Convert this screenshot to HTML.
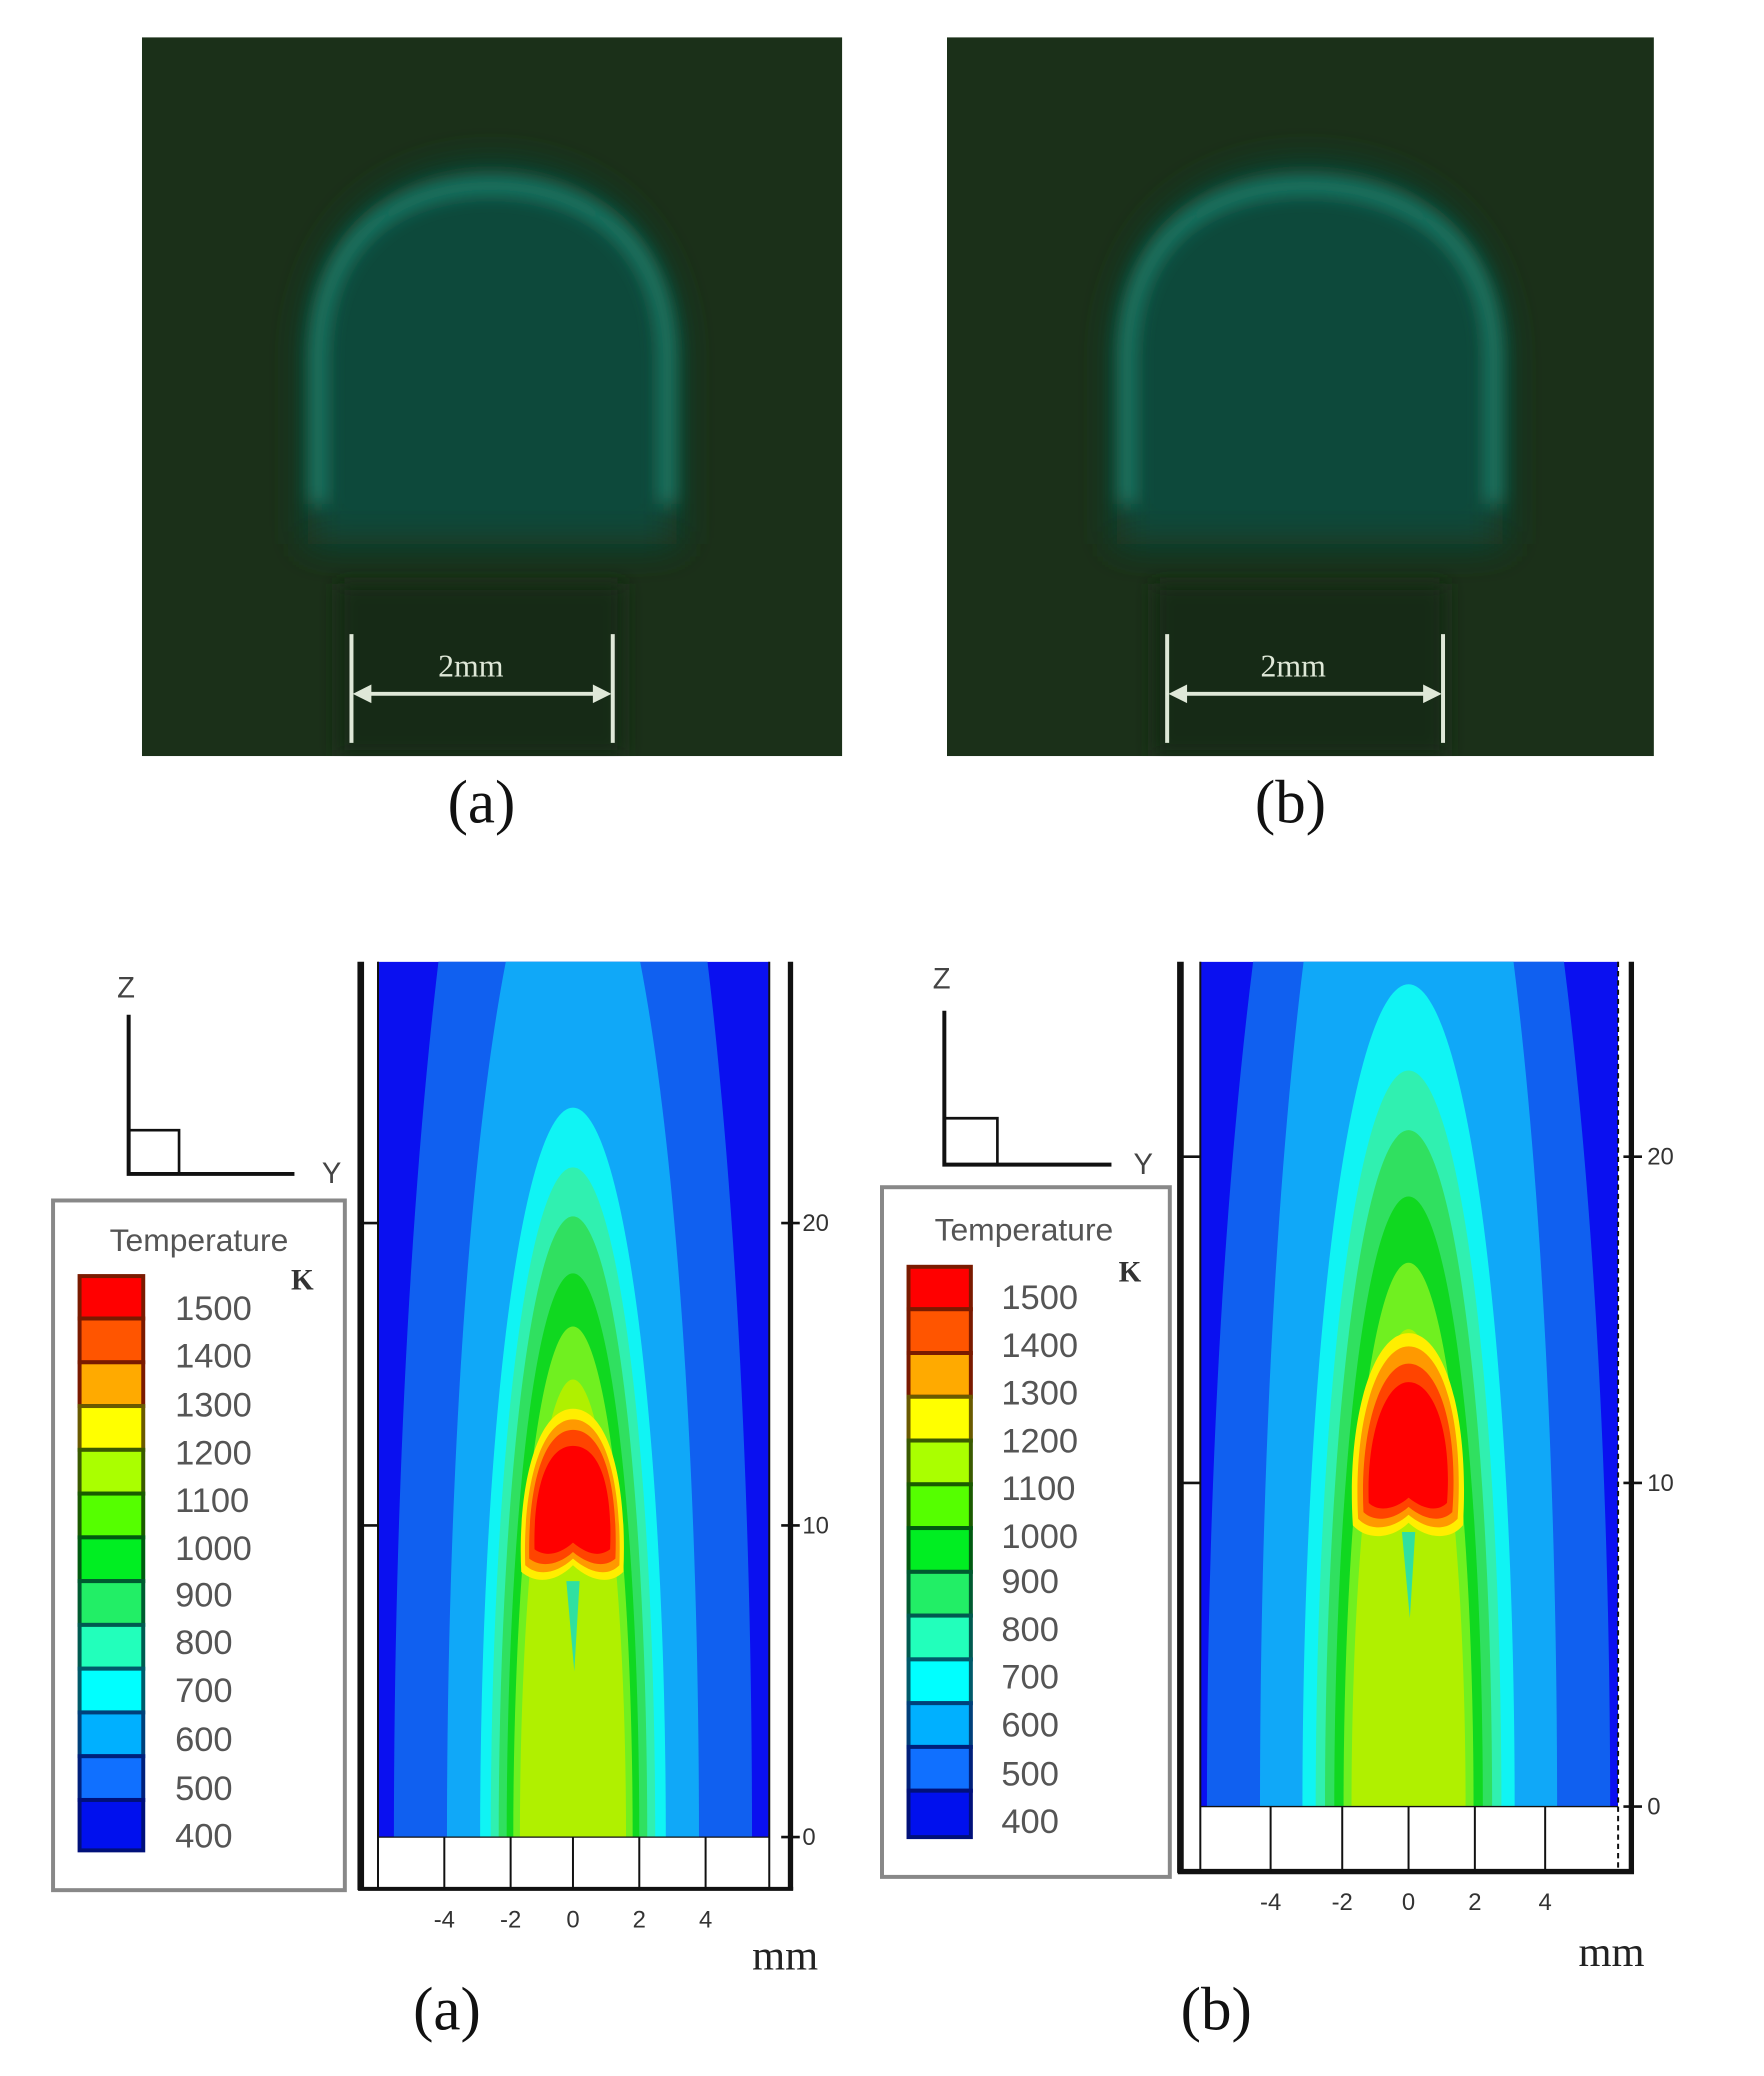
<!DOCTYPE html>
<html><head><meta charset="utf-8"><style>html,body{margin:0;padding:0;background:#fff;width:1764px;height:2076px;overflow:hidden}svg{display:block}</style></head>
<body>
<svg width="1764" height="2076" viewBox="0 0 1330 1565" xmlns="http://www.w3.org/2000/svg" font-family="Liberation Sans, sans-serif">
<defs>
<filter id="bl" x="-20%" y="-20%" width="140%" height="140%"><feGaussianBlur stdDeviation="7"/></filter>
<filter id="bl2" x="-20%" y="-20%" width="140%" height="140%"><feGaussianBlur stdDeviation="14"/></filter>
<clipPath id="ca"><rect x="285" y="725" width="295" height="660"/></clipPath>
<clipPath id="cb"><rect x="905" y="725" width="315" height="637"/></clipPath>
<clipPath id="pa"><rect x="107" y="28" width="528" height="542"/></clipPath>
<clipPath id="pb"><rect x="714" y="28" width="533" height="542"/></clipPath>
</defs>
<rect width="1330" height="1565" fill="#fff"/>

<!-- photo a -->
<g clip-path="url(#pa)">
<rect x="107" y="28" width="528" height="542" fill="#1b3019"/>
<path d="M232 410 L232 270 C232 170 300 125 370 125 C440 125 510 170 510 270 L510 410 Z" fill="#0a4a3a" filter="url(#bl2)"/>
<path d="M240 380 L240 270 C240 180 300 140 370 140 C440 140 503 180 503 270 L503 380" fill="none" stroke="#1f8c78" stroke-width="10" filter="url(#bl)"/>
<rect x="255" y="440" width="215" height="130" fill="#182a17" filter="url(#bl)"/>
</g>
<g stroke="#dfe8d8" stroke-width="3" fill="#dfe8d8">
<line x1="265" y1="478" x2="265" y2="560"/><line x1="462" y1="478" x2="462" y2="560"/>
<line x1="272" y1="523" x2="455" y2="523"/>
<path d="M266 523 L280 516 L280 530 Z" stroke="none"/><path d="M461 523 L447 516 L447 530 Z" stroke="none"/>
</g>
<text x="355" y="510" font-family="Liberation Serif, serif" font-size="24" fill="#dfe8d8" text-anchor="middle">2mm</text>
<text x="363" y="620" font-family="Liberation Serif, serif" font-size="46" fill="#111" text-anchor="middle">(a)</text>

<!-- photo b -->
<g clip-path="url(#pb)">
<rect x="714" y="28" width="533" height="542" fill="#1b3019"/>
<path d="M842 410 L842 270 C842 170 910 125 985 125 C1060 125 1133 170 1133 270 L1133 410 Z" fill="#0a4a3a" filter="url(#bl2)"/>
<path d="M850 380 L850 270 C850 180 910 140 985 140 C1060 140 1126 180 1126 270 L1126 380" fill="none" stroke="#1f8c78" stroke-width="10" filter="url(#bl)"/>
<rect x="870" y="440" width="220" height="130" fill="#182a17" filter="url(#bl)"/>
</g>
<g stroke="#dfe8d8" stroke-width="3" fill="#dfe8d8">
<line x1="880" y1="478" x2="880" y2="560"/><line x1="1088" y1="478" x2="1088" y2="560"/>
<line x1="887" y1="523" x2="1081" y2="523"/>
<path d="M881 523 L895 516 L895 530 Z" stroke="none"/><path d="M1087 523 L1073 516 L1073 530 Z" stroke="none"/>
</g>
<text x="975" y="510" font-family="Liberation Serif, serif" font-size="24" fill="#dfe8d8" text-anchor="middle">2mm</text>
<text x="973" y="620" font-family="Liberation Serif, serif" font-size="46" fill="#111" text-anchor="middle">(b)</text>

<!-- ===== bottom a ===== -->
<g stroke="#111" fill="none">
<text x="95" y="752" font-size="22" fill="#444" stroke="none" text-anchor="middle">Z</text>
<polyline points="97,765 97,885 222,885" stroke-width="3"/>
<polyline points="97,852 135,852 135,885" stroke-width="2"/>
<text x="250" y="892" font-size="22" fill="#444" stroke="none" text-anchor="middle">Y</text>
<rect x="40" y="905" width="220" height="520" stroke="#888" stroke-width="3" fill="#fff"/>
</g>
<text x="150" y="943" font-size="24" fill="#555" text-anchor="middle">Temperature</text>
<text x="228" y="972" font-size="22" font-weight="bold" fill="#333" text-anchor="middle" font-family="Liberation Serif, serif">K</text>
<g stroke="#7a1a00" stroke-width="3">
<rect x="60" y="962" width="48" height="32" fill="#ff0000"/>
<rect x="60" y="994" width="48" height="33" fill="#ff5500"/>
<rect x="60" y="1027" width="48" height="33" fill="#ffaa00"/>
<rect x="60" y="1060" width="48" height="33" fill="#ffff00" stroke="#6a5a00"/>
<rect x="60" y="1093" width="48" height="33" fill="#aaff00" stroke="#3a5a00"/>
<rect x="60" y="1126" width="48" height="33" fill="#55ff00" stroke="#1a5a00"/>
<rect x="60" y="1159" width="48" height="33" fill="#00ee22" stroke="#005a10"/>
<rect x="60" y="1192" width="48" height="33" fill="#22ee66" stroke="#005a30"/>
<rect x="60" y="1225" width="48" height="33" fill="#22ffbb" stroke="#005a50"/>
<rect x="60" y="1258" width="48" height="33" fill="#00ffff" stroke="#005a6a"/>
<rect x="60" y="1291" width="48" height="33" fill="#00b0ff" stroke="#00407a"/>
<rect x="60" y="1324" width="48" height="33" fill="#1070ff" stroke="#00207a"/>
<rect x="60" y="1357" width="48" height="38" fill="#0010ee" stroke="#00107a"/>
</g>
<g font-size="26" fill="#555">
<text x="132" y="995">1500</text><text x="132" y="1031">1400</text><text x="132" y="1068">1300</text>
<text x="132" y="1104">1200</text><text x="132" y="1140">1100</text><text x="132" y="1176">1000</text>
<text x="132" y="1211">900</text><text x="132" y="1247">800</text><text x="132" y="1283">700</text>
<text x="132" y="1320">600</text><text x="132" y="1357">500</text><text x="132" y="1393">400</text>
</g>

<g clip-path="url(#ca)">
<rect x="285" y="725" width="295" height="660" fill="#0a10f0"/>
<ellipse cx="432" cy="1385" rx="135" ry="1000" fill="#1060f0"/>
<ellipse cx="432" cy="1385" rx="95" ry="780" fill="#10a8f8"/>
<ellipse cx="432" cy="1385" rx="70" ry="550" fill="#10f4f4"/>
<ellipse cx="432" cy="1385" rx="62" ry="505" fill="#30f0b0"/>
<ellipse cx="432" cy="1385" rx="56" ry="468" fill="#30e060"/>
<ellipse cx="432" cy="1385" rx="50" ry="425" fill="#10d820"/>
<ellipse cx="432" cy="1385" rx="45" ry="385" fill="#70f020"/>
<ellipse cx="432" cy="1385" rx="40" ry="345" fill="#b0f000"/>
<path d="M393 1185 C390 1120 405 1062 432 1062 C460 1062 473 1120 470 1185 C460 1195 445 1192 432 1180 C420 1192 405 1195 393 1185 Z" fill="#ffee00"/>
<path d="M396 1180 C394 1120 408 1070 432 1070 C457 1070 469 1120 467 1180 C458 1189 445 1186 432 1175 C420 1186 406 1189 396 1180 Z" fill="#ff9900"/>
<path d="M399 1175 C398 1120 410 1078 432 1078 C455 1078 466 1120 464 1175 C456 1182 444 1180 432 1170 C421 1180 408 1182 399 1175 Z" fill="#ff4400"/>
<path d="M403 1168 C402 1120 413 1090 432 1090 C452 1090 462 1120 460 1168 C452 1174 443 1172 432 1163 C422 1172 411 1174 403 1168 Z" fill="#ff0000"/>
<path d="M427 1192 L437 1192 L433 1260 Z" fill="#30e0a0"/>
</g>
<g stroke="#111" fill="none">
<line x1="272" y1="725" x2="272" y2="1425" stroke-width="5"/>
<line x1="596" y1="725" x2="596" y2="1425" stroke-width="4"/>
<line x1="270" y1="1424" x2="598" y2="1424" stroke-width="3"/>
<line x1="285" y1="725" x2="285" y2="1424" stroke-width="1.5"/>
<line x1="285" y1="1385" x2="580" y2="1385" stroke-width="1"/>
<g stroke-width="1.5"><line x1="335" y1="1385" x2="335" y2="1424"/><line x1="385" y1="1385" x2="385" y2="1424"/><line x1="432" y1="1385" x2="432" y2="1424"/><line x1="482" y1="1385" x2="482" y2="1424"/><line x1="532" y1="1385" x2="532" y2="1424"/></g>
<line x1="580" y1="725" x2="580" y2="1424" stroke-width="1.5"/>
<g stroke-width="2"><line x1="589" y1="922" x2="603" y2="922"/><line x1="589" y1="1150" x2="603" y2="1150"/><line x1="589" y1="1385" x2="603" y2="1385"/><line x1="272" y1="922" x2="285" y2="922"/><line x1="272" y1="1150" x2="285" y2="1150"/></g>
</g>
<g font-size="18" fill="#333">
<text x="605" y="928">20</text><text x="605" y="1156">10</text><text x="605" y="1391">0</text>
<g text-anchor="middle"><text x="335" y="1453">-4</text><text x="385" y="1453">-2</text><text x="432" y="1453">0</text><text x="482" y="1453">2</text><text x="532" y="1453">4</text></g>
</g>
<text x="592" y="1485" font-family="Liberation Serif, serif" font-size="32" fill="#222" text-anchor="middle">mm</text>
<text x="337" y="1530" font-family="Liberation Serif, serif" font-size="46" fill="#111" text-anchor="middle">(a)</text>

<!-- ===== bottom b ===== -->
<g stroke="#111" fill="none">
<text x="710" y="745" font-size="22" fill="#444" stroke="none" text-anchor="middle">Z</text>
<polyline points="712,762 712,878 838,878" stroke-width="3"/>
<polyline points="712,843 752,843 752,878" stroke-width="2"/>
<text x="862" y="885" font-size="22" fill="#444" stroke="none" text-anchor="middle">Y</text>
<rect x="665" y="895" width="217" height="520" stroke="#888" stroke-width="3" fill="#fff"/>
</g>
<text x="772" y="935" font-size="24" fill="#555" text-anchor="middle">Temperature</text>
<text x="852" y="966" font-size="22" font-weight="bold" fill="#333" text-anchor="middle" font-family="Liberation Serif, serif">K</text>
<g stroke="#7a1a00" stroke-width="3">
<rect x="685" y="955" width="47" height="32" fill="#ff0000"/>
<rect x="685" y="987" width="47" height="33" fill="#ff5500"/>
<rect x="685" y="1020" width="47" height="33" fill="#ffaa00"/>
<rect x="685" y="1053" width="47" height="33" fill="#ffff00" stroke="#6a5a00"/>
<rect x="685" y="1086" width="47" height="33" fill="#aaff00" stroke="#3a5a00"/>
<rect x="685" y="1119" width="47" height="33" fill="#55ff00" stroke="#1a5a00"/>
<rect x="685" y="1152" width="47" height="33" fill="#00ee22" stroke="#005a10"/>
<rect x="685" y="1185" width="47" height="33" fill="#22ee66" stroke="#005a30"/>
<rect x="685" y="1218" width="47" height="33" fill="#22ffbb" stroke="#005a50"/>
<rect x="685" y="1251" width="47" height="33" fill="#00ffff" stroke="#005a6a"/>
<rect x="685" y="1284" width="47" height="33" fill="#00b0ff" stroke="#00407a"/>
<rect x="685" y="1317" width="47" height="33" fill="#1070ff" stroke="#00207a"/>
<rect x="685" y="1350" width="47" height="35" fill="#0010ee" stroke="#00107a"/>
</g>
<g font-size="26" fill="#555">
<text x="755" y="987">1500</text><text x="755" y="1023">1400</text><text x="755" y="1059">1300</text>
<text x="755" y="1095">1200</text><text x="755" y="1131">1100</text><text x="755" y="1167">1000</text>
<text x="755" y="1201">900</text><text x="755" y="1237">800</text><text x="755" y="1273">700</text>
<text x="755" y="1309">600</text><text x="755" y="1346">500</text><text x="755" y="1382">400</text>
</g>

<g clip-path="url(#cb)">
<rect x="905" y="725" width="315" height="637" fill="#0a10f0"/>
<ellipse cx="1062" cy="1362" rx="152" ry="1000" fill="#1060f0"/>
<ellipse cx="1062" cy="1362" rx="112" ry="900" fill="#10a8f8"/>
<ellipse cx="1062" cy="1362" rx="80" ry="620" fill="#10f4f4"/>
<ellipse cx="1062" cy="1362" rx="70" ry="555" fill="#30f0b0"/>
<ellipse cx="1062" cy="1362" rx="63" ry="510" fill="#30e060"/>
<ellipse cx="1062" cy="1362" rx="56" ry="460" fill="#10d820"/>
<ellipse cx="1062" cy="1362" rx="49" ry="410" fill="#70f020"/>
<ellipse cx="1062" cy="1362" rx="43" ry="360" fill="#b0f000"/>
<path d="M1020 1150 C1015 1070 1035 1005 1062 1005 C1090 1005 1108 1070 1103 1150 C1093 1162 1075 1160 1062 1148 C1050 1160 1031 1162 1020 1150 Z" fill="#ffee00"/>
<path d="M1024 1145 C1020 1070 1039 1015 1062 1015 C1087 1015 1104 1070 1099 1145 C1090 1155 1075 1153 1062 1142 C1050 1153 1033 1155 1024 1145 Z" fill="#ff9900"/>
<path d="M1028 1140 C1025 1075 1042 1028 1062 1028 C1084 1028 1100 1075 1095 1140 C1087 1148 1074 1146 1062 1136 C1051 1146 1036 1148 1028 1140 Z" fill="#ff4400"/>
<path d="M1032 1133 C1030 1080 1045 1042 1062 1042 C1081 1042 1095 1080 1091 1133 C1084 1140 1073 1138 1062 1129 C1052 1138 1039 1140 1032 1133 Z" fill="#ff0000"/>
<path d="M1057 1155 L1067 1155 L1063 1220 Z" fill="#30e0a0"/>
</g>
<g stroke="#111" fill="none">
<line x1="890" y1="725" x2="890" y2="1412" stroke-width="5"/>
<line x1="1230" y1="725" x2="1230" y2="1412" stroke-width="4"/>
<line x1="888" y1="1411" x2="1232" y2="1411" stroke-width="4"/>
<line x1="905" y1="725" x2="905" y2="1411" stroke-width="1.5"/>
<line x1="905" y1="1362" x2="1220" y2="1362" stroke-width="1"/>
<g stroke-width="1.5"><line x1="958" y1="1362" x2="958" y2="1411"/><line x1="1012" y1="1362" x2="1012" y2="1411"/><line x1="1062" y1="1362" x2="1062" y2="1411"/><line x1="1112" y1="1362" x2="1112" y2="1411"/><line x1="1165" y1="1362" x2="1165" y2="1411"/></g>
<line x1="1220" y1="725" x2="1220" y2="1411" stroke-width="1.5" stroke-dasharray="4 3"/>
<g stroke-width="2"><line x1="1224" y1="872" x2="1238" y2="872"/><line x1="1224" y1="1118" x2="1238" y2="1118"/><line x1="1224" y1="1362" x2="1238" y2="1362"/><line x1="890" y1="872" x2="905" y2="872"/><line x1="890" y1="1118" x2="905" y2="1118"/></g>
</g>
<g font-size="18" fill="#333">
<text x="1242" y="878">20</text><text x="1242" y="1124">10</text><text x="1242" y="1368">0</text>
<g text-anchor="middle"><text x="958" y="1440">-4</text><text x="1012" y="1440">-2</text><text x="1062" y="1440">0</text><text x="1112" y="1440">2</text><text x="1165" y="1440">4</text></g>
</g>
<text x="1215" y="1482" font-family="Liberation Serif, serif" font-size="32" fill="#222" text-anchor="middle">mm</text>
<text x="917" y="1530" font-family="Liberation Serif, serif" font-size="46" fill="#111" text-anchor="middle">(b)</text>
</svg>
</body></html>
